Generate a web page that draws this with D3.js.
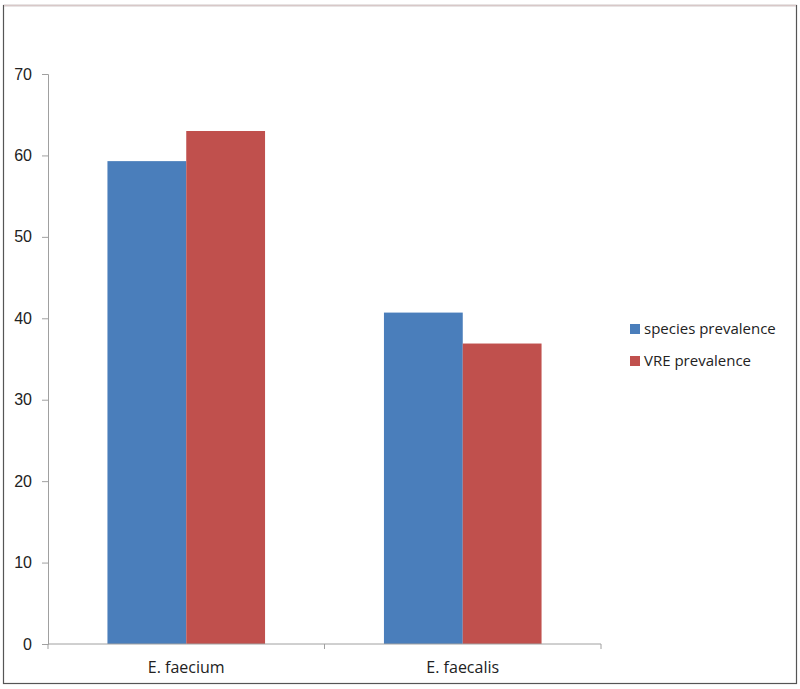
<!DOCTYPE html>
<html>
<head>
<meta charset="utf-8">
<script src="https://cdn.jsdelivr.net/npm/d3@7"></script>
<style>
  body { margin: 0; background: #fff; }
  svg { display: block; font-family: 'Open Sans', sans-serif; }
</style>
</head>
<body>
<svg id="chart" width="800" height="689"></svg>
<script>
const categories = ['E. faecium', 'E. faecalis'];
const seriesNames = ['species prevalence', 'VRE prevalence'];
const speciesPrevalence = [59.3, 40.7];
const vrePrevalence = [63.0, 36.9];
const yTicks = [0, 10, 20, 30, 40, 50, 60, 70];
const colors = ['#4a7ebb', '#c0504d'];

const svg = d3.select('#chart');
const width = +svg.attr('width');
const height = +svg.attr('height');

const padding = { top: 74, right: 199, bottom: 45, left: 48 };

// outer frame
svg.append('rect')
  .attr('x', 3.5).attr('y', 5.5)
  .attr('width', 793).attr('height', 678)
  .attr('fill', '#fff')
  .attr('stroke', '#555')
  .attr('stroke-width', 1.2);
svg.append('line')
  .attr('x1', 4).attr('x2', 796)
  .attr('y1', 5.5).attr('y2', 5.5)
  .attr('stroke', '#d8c8c8')
  .attr('stroke-width', 1.5);

const data = categories.map((c, i) => ({
  category: c,
  values: [speciesPrevalence[i], vrePrevalence[i]],
}));

//SCALE AND AXIS
const x0 = d3.scaleBand()
  .domain(categories)
  .range([padding.left, width - padding.right])
  .paddingInner(0.43)
  .paddingOuter(0.215);

const x1 = d3.scaleBand()
  .domain(seriesNames)
  .range([0, x0.bandwidth()]);

const yScale = d3.scaleLinear()
  .domain([0, 70])
  .range([height - padding.bottom, padding.top]);

const yAxis = d3.axisLeft(yScale)
  .tickValues(yTicks)
  .tickSize(6)
  .tickPadding(10);

svg.append('g')
  .attr('transform', `translate(${padding.left},0)`)
  .call(yAxis)
  .call((g) => g.select('.domain').attr('stroke', '#a0a0a0'))
  .call((g) => g.selectAll('.tick line').attr('stroke', '#a0a0a0'))
  .call((g) => g.selectAll('.tick text')
    .attr('fill', '#222')
    .style('font-size', '16px'));

// bars
const groups = svg.selectAll('.group')
  .data(data)
  .enter()
  .append('g')
  .classed('group', true)
  .attr('transform', (d) => `translate(${x0(d.category)},0)`);

groups.selectAll('rect')
  .data((d) => d.values.map((v, i) => ({ name: seriesNames[i], value: v, i })))
  .enter()
  .append('rect')
  .attr('x', (d) => x1(d.name))
  .attr('y', (d) => yScale(d.value))
  .attr('width', x1.bandwidth())
  .attr('height', (d) => yScale(0) - yScale(d.value))
  .attr('fill', (d) => colors[d.i]);

// x axis drawn with outer ticks at band edges
const xAxisG = svg.append('g')
  .attr('transform', `translate(0,${height - padding.bottom})`);

const edges = [padding.left].concat(categories.map((c) => x0(c) + x0.bandwidth() + x0.step() * 0.215));
xAxisG.append('line')
  .attr('x1', padding.left).attr('x2', width - padding.right)
  .attr('stroke', '#a0a0a0');
xAxisG.selectAll('.xtick')
  .data(edges)
  .enter()
  .append('line')
  .attr('x1', (d) => d).attr('x2', (d) => d)
  .attr('y1', 0).attr('y2', 5)
  .attr('stroke', '#a0a0a0');
xAxisG.selectAll('.xlabel')
  .data(categories)
  .enter()
  .append('text')
  .attr('x', (d) => x0(d) + x0.bandwidth() / 2)
  .attr('y', 29)
  .attr('text-anchor', 'middle')
  .style('font-size', '16px')
  .attr('fill', '#222')
  .text((d) => d);

// legend
const legend = svg.append('g')
  .attr('transform', 'translate(630,329)');
const items = legend.selectAll('.item')
  .data(seriesNames)
  .enter()
  .append('g')
  .attr('transform', (d, i) => `translate(0,${i * 32})`);
items.append('rect')
  .attr('x', 0).attr('y', -5)
  .attr('width', 10).attr('height', 10)
  .attr('fill', (d, i) => colors[i]);
items.append('text')
  .attr('x', 14)
  .attr('dy', '0.35em')
  .style('font-size', '15px')
  .attr('fill', '#222')
  .text((d) => d);
</script>
</body>
</html>
